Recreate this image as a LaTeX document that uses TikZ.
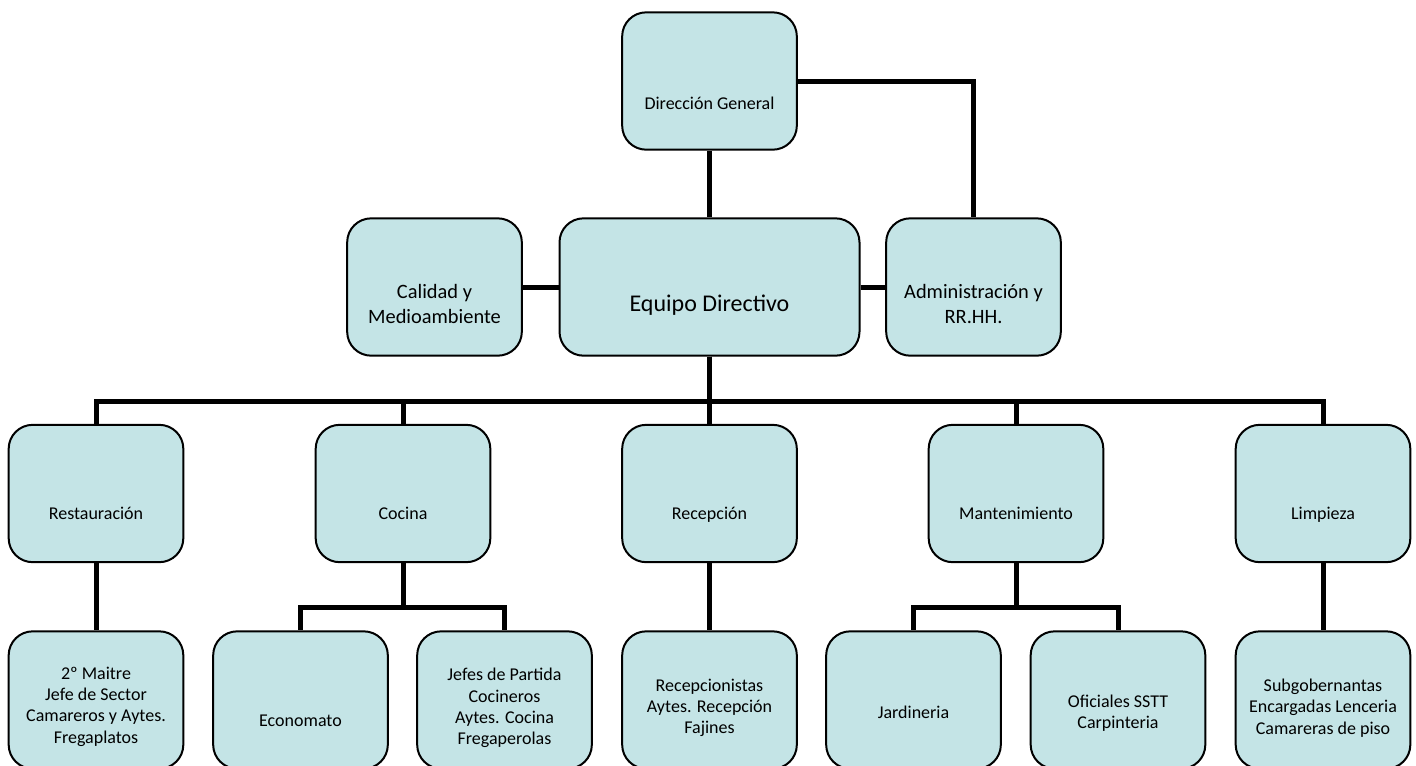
\documentclass[tikz,border=0pt]{standalone}
\usepackage{fontspec}
\setmainfont{Carlito}
\usepackage{color}
\definecolor{mylightblue}{RGB}{196,228,230}
\usepackage{tikz}
\usetikzlibrary{calc,positioning}

\begin{document}
\begin{tikzpicture}[
  x=0.75pt, y=-0.75pt,
  mybox/.style={
    draw,
    line width=1.5pt,
    fill=mylightblue,
    rounded corners=18pt,
    inner sep=0pt,
    minimum width=131pt,
    minimum height=103pt
    },
  mytext/.style={
    font=\fontsize{13.5pt}{16pt}\selectfont,
    align=center
    },
  myone/.style={
    mytext,
    text height=2ex,
    text depth=.5ex
    },
  mybig/.style={
    font=\fontsize{15.3pt}{18.7pt}\selectfont,
    align=center
    },
  myhuge/.style={
    font=\fontsize{18pt}{22pt}\selectfont,
    align=center,
    text height=2ex,
    text depth=.5ex
    },
  myline/.style={line width=3.75pt}
]
\useasboundingbox (0,0) rectangle (1416,765);

% top
\node [mybox, label={[myone, yshift=-18pt]center:Dirección General}] (dg) at (709.5,81) {};
\node [mybox, label={[mybig, yshift=-13pt]center:Calidad y\\Medioambiente}] (cal) at (434.5,287) {};
\node [mybox, minimum width=225pt, label={[myhuge, yshift=-15pt]center:Equipo Directivo}] (eq) at (709.5,287) {};
\node [mybox, label={[mybig, yshift=-13pt]center:Administración y\\RR.HH.}] (adm) at (973.5,287) {};

% departments
\node [mybox, label={[myone, yshift=-16pt]center:Restauración}] (rest) at (96,493.5) {};
\node [mybox, label={[myone, yshift=-16pt]center:Cocina}] (coc) at (403,493.5) {};
\node [mybox, label={[myone, yshift=-16pt]center:Recepción}] (rec) at (709.5,493.5) {};
\node [mybox, label={[myone, yshift=-16pt]center:Mantenimiento}] (man) at (1016,493.5) {};
\node [mybox, label={[myone, yshift=-16pt]center:Limpieza}] (lim) at (1323,493.5) {};

% staff
\node [mybox, label={[mytext, yshift=-5pt]center:2º Maitre\\Jefe de Sector\\Camareros y Aytes.\\Fregaplatos}] (mai) at (96,700) {};
\node [mybox, label={[myone, yshift=-16pt]center:Economato}] (eco) at (300.5,700) {};
\node [mybox, label={[mytext, yshift=-6pt]center:Jefes de Partida\\Cocineros\\Aytes. Cocina\\Fregaperolas}] (jef) at (504.5,700) {};
\node [mybox, label={[mytext, yshift=-6pt]center:Recepcionistas\\Aytes. Recepción\\Fajines}] (rcp) at (709.5,700) {};
\node [mybox, label={[myone, yshift=-10pt]center:Jardineria}] (jar) at (913.5,700) {};
\node [mybox, label={[mytext, yshift=-10pt]center:Oficiales SSTT\\Carpinteria}] (ofi) at (1118,700) {};
\node [mybox, label={[mytext, yshift=-6pt]center:Subgobernantas\\Encargadas Lenceria\\Camareras de piso}] (sub) at (1323,700) {};

\coordinate (bus) at (709.5,401);
\coordinate (cbus) at (403,607);
\coordinate (mbus) at (1016,607);

% connectors
\draw [myline] (dg.south) -- (eq.north);
\draw [myline] (dg.east) -| (adm.north);
\draw [myline] (cal.east) -- (eq.west);
\draw [myline] (eq.east) -- (adm.west);
\foreach \n in {rest,coc,rec,man,lim}
  \draw [myline] (eq.south) -- (bus) -| (\n.north);
\draw [myline] (coc.south) -- (cbus) -| (eco.north);
\draw [myline] (cbus) -| (jef.north);
\draw [myline] (man.south) -- (mbus) -| (jar.north);
\draw [myline] (mbus) -| (ofi.north);
\draw [myline] (rest.south) -- (mai.north);
\draw [myline] (rec.south) -- (rcp.north);
\draw [myline] (lim.south) -- (sub.north);

\end{tikzpicture}
\end{document}
